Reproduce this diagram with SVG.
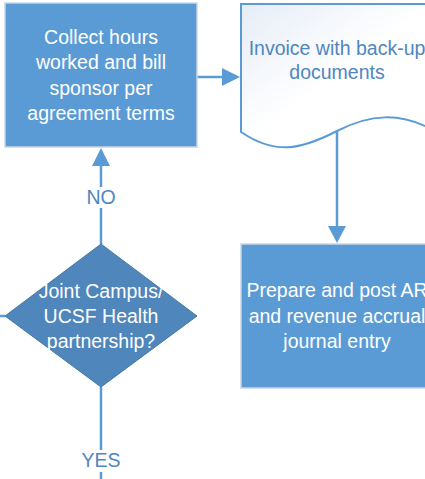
<svg xmlns="http://www.w3.org/2000/svg" width="425" height="479" viewBox="0 0 425 479">
<style>
.box{fill:#5B9BD5;stroke:#C9D6E3;stroke-width:1.5}
.dia{fill:#4F86BB;stroke:#45799F;stroke-width:1}
.doc{fill:url(#docg);stroke:#5B9BD5;stroke-width:2}
.wt{font-family:"Liberation Sans",Arial,sans-serif;font-size:19.5px;fill:#FFFFFF;text-anchor:middle}
.bt{font-family:"Liberation Sans",Arial,sans-serif;font-size:19.5px;fill:#4F86C0;text-anchor:middle}
.ln{stroke:#5B9BD5;stroke-width:2.5;fill:none}
.ah{fill:#5B9BD5}
</style>
<defs>
<linearGradient id="docg" x1="0" y1="0" x2="1" y2="1">
<stop offset="0" stop-color="#E6EDF7"/>
<stop offset="0.5" stop-color="#FFFFFF"/>
<stop offset="1" stop-color="#FFFFFF"/>
</linearGradient>
</defs>
<g id="connectors">
<line class="ln" x1="197" y1="77" x2="224" y2="77"/>
<polygon class="ah" points="222,68 240,77 222,86"/>
<line class="ln" x1="337" y1="131" x2="337" y2="228"/>
<polygon class="ah" points="328,226 346,226 337,243"/>
<line class="ln" x1="101" y1="244" x2="101" y2="208"/>
<line class="ln" x1="101" y1="187" x2="101" y2="164"/>
<polygon class="ah" points="92,166 110,166 101,148"/>
<text class="bt" x="101" y="204">NO</text>
<line class="ln" x1="101" y1="387" x2="101" y2="450"/>
<text class="bt" x="101" y="467">YES</text>
<line class="ln" x1="101" y1="472" x2="101" y2="479"/>
<line class="ln" x1="0" y1="316" x2="5" y2="316"/>
</g>
<g id="collect">
<rect class="box" x="5" y="3" width="192" height="144"/>
<text class="wt" x="101" y="44">Collect hours</text>
<text class="wt" x="101" y="69">worked and bill</text>
<text class="wt" x="101" y="95">sponsor per</text>
<text class="wt" x="101" y="120">agreement terms</text>
</g>
<g id="invoice">
<path class="doc" d="M241,4 H433 V130 C400,112 370,114 337,131 C300,150 275,155 241,132 Z"/>
<text class="bt" x="337" y="55">Invoice with back-up</text>
<text class="bt" x="337" y="79">documents</text>
</g>
<g id="prepare">
<rect class="box" x="241" y="244" width="192" height="144"/>
<text class="wt" x="337" y="297">Prepare and post AR</text>
<text class="wt" x="337" y="323">and revenue accrual</text>
<text class="wt" x="337" y="348">journal entry</text>
</g>
<g id="decision">
<polygon class="dia" points="101,244 197,316 101,387 5,316"/>
<text class="wt" x="101" y="298">Joint Campus/</text>
<text class="wt" x="101" y="323">UCSF Health</text>
<text class="wt" x="101" y="348">partnership?</text>
</g>
</svg>
